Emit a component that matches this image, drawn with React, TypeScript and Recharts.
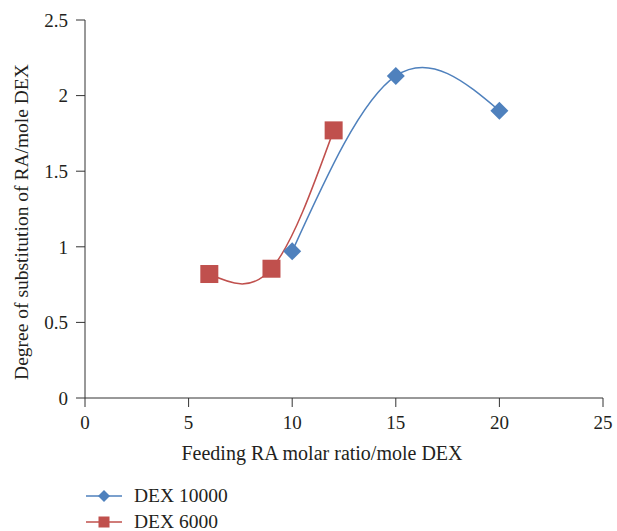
import { LineChart, Line, XAxis, YAxis, Legend } from 'recharts';

// values
const dex10000 = [
  { ratio: 10, ds: 0.97 },
  { ratio: 15, ds: 2.13 },
  { ratio: 20, ds: 1.9 },
];

const dex6000 = [
  { ratio: 6, ds: 0.82 },
  { ratio: 9, ds: 0.855 },
  { ratio: 12, ds: 1.77 },
];

const xTicks = [0, 5, 10, 15, 20, 25];
const yTicks = [0, 0.5, 1, 1.5, 2, 2.5];

const BLUE = '#4F81BD';
const RED = '#C0504D';
const AXIS = '#333333';
const FONT = '"Liberation Serif", "DejaVu Serif", serif';

const Diamond = ({ cx, cy, index, size = 9 }: any) => {
  if (cx == null || cy == null) return null;
  const r = size;
  return (
    <polygon
      key={`d-${index}`}
      points={`${cx},${cy - r} ${cx + r},${cy} ${cx},${cy + r} ${cx - r},${cy}`}
      fill={BLUE}
    />
  );
};

const Square = ({ cx, cy, index, size = 9 }: any) => {
  if (cx == null || cy == null) return null;
  const r = size;
  return <rect key={`s-${index}`} x={cx - r} y={cy - r} width={r * 2} height={r * 2} fill={RED} />;
};

function LegendContent({ payload }: any) {
  return (
    <div style={{ height: 52, fontFamily: FONT, fontSize: 19.5, color: '#231f20' }}>
      {(payload || []).map((entry: any, i: number) => (
        <div key={`leg-${i}`} style={{ display: 'flex', alignItems: 'center', height: 26 }}>
          <svg width={48} height={26} style={{ marginRight: 6 }}>
            <line x1={6} y1={13} x2={42} y2={13} stroke={entry.color} strokeWidth={1.5} />
            {i === 0 ? <Diamond cx={24} cy={13} size={6} /> : <Square cx={24} cy={13} size={5.5} />}
          </svg>
          <span>{entry.value}</span>
        </div>
      ))}
    </div>
  );
}

export default function App() {
  return (
    <div style={{ position: 'absolute', left: 0, top: 0, background: '#fff' }}>
      <LineChart width={617} height={531} margin={{ top: 20, right: 14, left: 0, bottom: 17 }}>
        <XAxis
          type="number"
          dataKey="ratio"
          domain={[0, 25]}
          ticks={xTicks}
          height={64}
          stroke={AXIS}
          tickSize={9}
          tickMargin={9}
          tick={{ fill: '#231f20', fontSize: 19, fontFamily: FONT }}
          label={{
            value: 'Feeding RA molar ratio/mole DEX',
            position: 'insideBottom',
            offset: 2,
            dx: -22,
            style: { fill: '#231f20', fontSize: 20, fontFamily: FONT },
          }}
        />
        <YAxis
          type="number"
          domain={[0, 2.5]}
          ticks={yTicks}
          width={85}
          stroke={AXIS}
          tickSize={9}
          tickMargin={8}
          tick={{ fill: '#231f20', fontSize: 19, fontFamily: FONT }}
          label={{
            value: 'Degree of substitution of RA/mole DEX',
            angle: -90,
            position: 'insideLeft',
            offset: 21,
            dy: 13,
            style: { textAnchor: 'middle', fill: '#231f20', fontSize: 19.5, fontFamily: FONT },
          }}
        />
        <Legend
          verticalAlign="bottom"
          align="left"
          content={<LegendContent />}
          wrapperStyle={{ top: 483, bottom: 'auto', left: 80 }}
        />
        <Line
          data={dex10000}
          dataKey="ds"
          name="DEX 10000"
          type="natural"
          stroke={BLUE}
          strokeWidth={1.5}
          dot={(p: any) => <Diamond key={`d-${p.index}`} cx={p.cx} cy={p.cy} index={p.index} />}
          activeDot={false}
          isAnimationActive={false}
        />
        <Line
          data={dex6000}
          dataKey="ds"
          name="DEX 6000"
          type="natural"
          stroke={RED}
          strokeWidth={1.5}
          dot={(p: any) => <Square key={`s-${p.index}`} cx={p.cx} cy={p.cy} index={p.index} />}
          activeDot={false}
          isAnimationActive={false}
        />
      </LineChart>
    </div>
  );
}
